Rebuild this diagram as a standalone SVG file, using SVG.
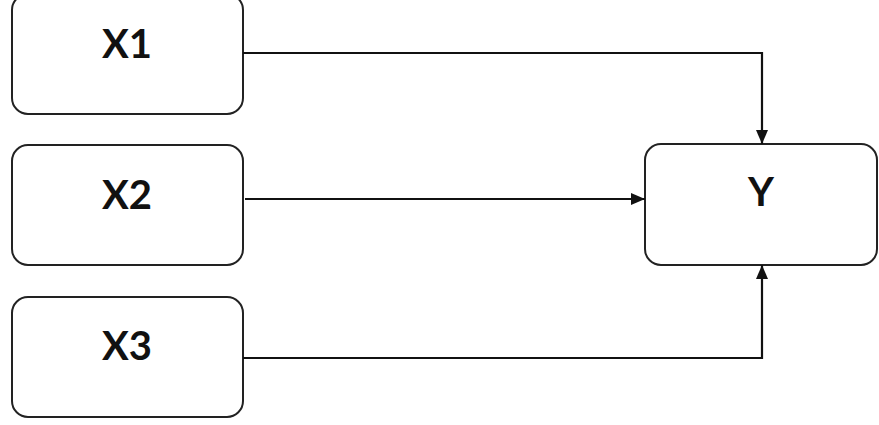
<svg xmlns="http://www.w3.org/2000/svg" width="879" height="425" viewBox="0 0 879 425">
<style>
.box{fill:#fff;stroke:#222;stroke-width:2}
.lbl{font-family:Lato,"Open Sans",sans-serif;font-weight:bold;font-size:40px;fill:#111;text-anchor:middle}
.con{fill:none;stroke:#111;stroke-width:2.2}
</style>
<defs>
<marker id="arr" viewBox="0 0 14 12" refX="14" refY="6" markerWidth="14" markerHeight="12" markerUnits="userSpaceOnUse" orient="auto">
<path d="M0,0 L14,6 L0,12 z" fill="#111"/>
</marker>
</defs>
<rect width="879" height="425" fill="#fff"/>
<g id="x1"><rect class="box" x="12" y="-6" width="231" height="120" rx="16"/><text class="lbl" x="127" y="58">X1</text></g>
<g id="x2"><rect class="box" x="12" y="145" width="231" height="120" rx="16"/><text class="lbl" x="127" y="209">X2</text></g>
<g id="x3"><rect class="box" x="12" y="297" width="231" height="120" rx="16"/><text class="lbl" x="127" y="360">X3</text></g>
<g id="y"><rect class="box" x="645" y="144" width="232" height="121" rx="16"/><text class="lbl" x="761" y="206">Y</text></g>
<g id="connectors">
<path class="con" d="M243,53 H762 V144" style="marker-end:url(#arr)"/>
<path class="con" d="M245,199 H645" style="marker-end:url(#arr)"/>
<path class="con" d="M243,358 H762 V265" style="marker-end:url(#arr)"/>
</g>
</svg>
